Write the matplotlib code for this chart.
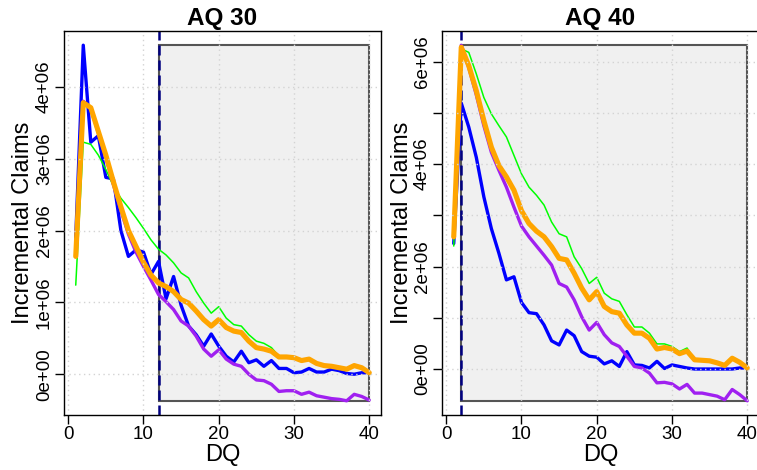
import numpy as np
import matplotlib.pyplot as plt
from matplotlib.patches import Rectangle
from matplotlib.ticker import MultipleLocator, FuncFormatter

plt.rcParams['font.family'] = ['Liberation Sans', 'DejaVu Sans']
plt.rcParams['lines.solid_joinstyle'] = 'round'
plt.rcParams['lines.solid_capstyle'] = 'round'

dq = np.arange(1, 41)

# AQ 30 (values in millions)
blue30 = [1.90, 4.58, 3.23, 3.32, 2.74, 2.72, 2.00, 1.64, 1.73, 1.70, 1.39, 1.57, 1.05, 1.36, 0.96,
          0.67, 0.55, 0.39, 0.56, 0.39, 0.25, 0.17, 0.32, 0.16, 0.20, 0.11, 0.19, 0.08, 0.08, 0.02,
          0.03, 0.08, 0.03, 0.03, 0.07, 0.05, 0.01, 0.00, 0.02, 0.02]
green30 = [1.24, 3.23, 3.20, 3.05, 2.85, 2.62, 2.45, 2.32, 2.18, 2.03, 1.87, 1.74, 1.66, 1.55, 1.41,
           1.34, 1.15, 0.99, 0.85, 0.94, 0.78, 0.69, 0.67, 0.55, 0.46, 0.43, 0.37, 0.25, 0.24, 0.23,
           0.19, 0.21, 0.15, 0.12, 0.11, 0.09, 0.07, 0.12, 0.09, 0.02]
purple30 = [1.64, 3.80, 3.70, 3.36, 3.02, 2.64, 2.28, 1.95, 1.70, 1.50, 1.31, 1.11, 1.01, 0.90, 0.74,
            0.67, 0.53, 0.35, 0.25, 0.34, 0.21, 0.14, 0.11, 0.00, -0.08, -0.09, -0.14, -0.24, -0.23, -0.23,
            -0.28, -0.25, -0.30, -0.32, -0.34, -0.35, -0.37, -0.28, -0.31, -0.36]
orange30 = [1.64, 3.78, 3.71, 3.38, 3.05, 2.68, 2.33, 2.00, 1.78, 1.56, 1.38, 1.27, 1.22, 1.15, 1.04,
            0.99, 0.88, 0.76, 0.67, 0.76, 0.65, 0.60, 0.58, 0.46, 0.37, 0.35, 0.32, 0.24, 0.24, 0.23,
            0.19, 0.21, 0.15, 0.12, 0.11, 0.09, 0.07, 0.12, 0.09, 0.02]

# AQ 40 (values in millions)
blue40 = [2.45, 5.19, 4.72, 4.13, 3.36, 2.74, 2.26, 1.74, 1.80, 1.30, 1.10, 1.08, 0.86, 0.55, 0.47,
          0.76, 0.65, 0.34, 0.25, 0.23, 0.10, 0.16, 0.05, 0.34, 0.08, 0.07, 0.02, 0.15, 0.01, 0.08,
          0.05, 0.02, 0.00, 0.00, 0.00, 0.00, 0.00, 0.00, 0.02, 0.02]
green40 = [2.40, 6.25, 6.18, 5.76, 5.30, 4.98, 4.75, 4.53, 4.17, 3.81, 3.55, 3.39, 3.20, 2.87, 2.64,
           2.58, 2.19, 1.96, 1.67, 1.79, 1.48, 1.37, 1.32, 1.06, 0.82, 0.82, 0.70, 0.49, 0.49, 0.44,
           0.34, 0.41, 0.18, 0.17, 0.16, 0.12, 0.07, 0.21, 0.13, 0.02]
purple40 = [2.58, 6.32, 5.88, 5.35, 4.75, 4.23, 3.88, 3.55, 3.16, 2.79, 2.58, 2.40, 2.22, 2.03, 1.67,
            1.60, 1.35, 1.02, 0.76, 0.91, 0.67, 0.51, 0.44, 0.25, 0.05, 0.02, -0.08, -0.27, -0.26, -0.29,
            -0.39, -0.30, -0.47, -0.47, -0.50, -0.53, -0.60, -0.40, -0.50, -0.62]
orange40 = [2.58, 6.28, 5.92, 5.43, 4.85, 4.33, 3.97, 3.75, 3.49, 3.09, 2.84, 2.69, 2.58, 2.39, 2.16,
            2.13, 1.87, 1.58, 1.35, 1.51, 1.22, 1.12, 1.09, 0.86, 0.70, 0.70, 0.60, 0.39, 0.42, 0.39,
            0.30, 0.35, 0.18, 0.17, 0.16, 0.12, 0.07, 0.21, 0.13, 0.02]

panels = [
    ("AQ 30", 12, blue30, green30, purple30, orange30, False),
    ("AQ 40", 2, blue40, green40, purple40, orange40, True),
]

fig = plt.figure(figsize=(7.57, 4.70), dpi=100)
positions = [[64/757, 55/470, 317/757, 384/470], [442/757, 55/470, 317/757, 384/470]]

for pos, (title, cut, b, g, p, o, skip_odd) in zip(positions, panels):
    ax = fig.add_axes(pos)
    series = [np.array(s) * 1e6 for s in (b, g, p, o)]
    ymin = min(s.min() for s in series)
    ymax = max(s.max() for s in series)
    ext = (ymax - ymin) * 0.04
    ax.set_ylim(ymin - ext, ymax + ext)
    ax.set_xlim(dq[0] - 0.04 * (dq[-1] - dq[0]), dq[-1] + 0.04 * (dq[-1] - dq[0]))

    # shaded future region
    ax.add_patch(Rectangle((cut, ymin), dq[-1] - cut, ymax - ymin, facecolor='#f0f0f0',
                           edgecolor='#555555', lw=1.5, zorder=1))
    ax.axvline(cut, color='navy', lw=1.8, ls=(0, (4, 2)), zorder=1.5)

    ax.plot(dq, series[0], color='blue', lw=2.4, zorder=2)
    ax.plot(dq, series[1], color='#00ff00', lw=1.1, zorder=2)
    ax.plot(dq, series[2], color='#a020f0', lw=2.4, zorder=2)
    ax.plot(dq, series[3], color='orange', lw=3.7, zorder=2)

    ax.set_axisbelow(False)
    ax.grid(True, color='lightgray', ls=(0, (1, 2.5)), lw=1)
    ax.xaxis.set_major_locator(MultipleLocator(10))
    ax.yaxis.set_major_locator(MultipleLocator(1e6))

    def fmt(v, pos, skip=skip_odd):
        k = int(round(v / 1e6))
        if skip and k % 2:
            return ''
        return '%de+06' % k if k != 0 else '0e+00'
    ax.yaxis.set_major_formatter(FuncFormatter(fmt))
    ax.tick_params(axis='both', direction='out', length=6.5, width=1, labelsize=13.5, pad=1.5)
    plt.setp(ax.get_yticklabels(), rotation=90, va='center')
    for sp in ax.spines.values():
        sp.set_linewidth(1.0)
        sp.set_color('black')

    ax.set_title(title, fontsize=17.5, fontweight='bold', pad=4)
    ax.set_xlabel('DQ', fontsize=17, labelpad=0.5)
    ax.set_ylabel('Incremental Claims', fontsize=17, labelpad=1)

fig.savefig('out.png', dpi=100)
